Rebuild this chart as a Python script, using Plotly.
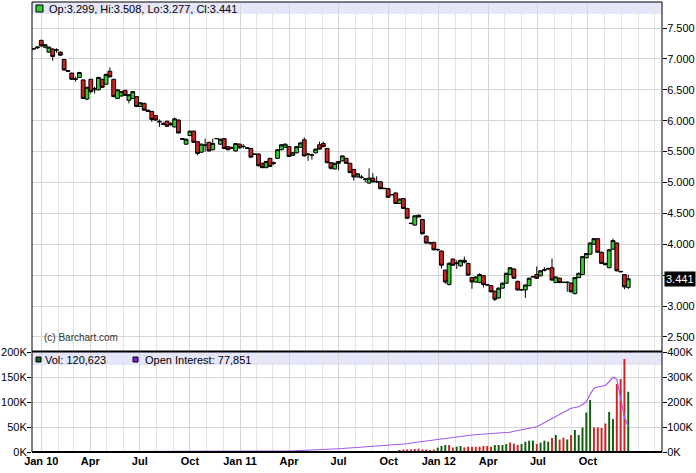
import pandas as pd
import plotly.graph_objects as go

# ---------------- data ----------------
start_date = "2009-12-18"   # first weekly bar (Fridays)

opens = [7.16,7.18,7.30,7.19,7.11,7.16,7.14,7.11,6.99,6.81,6.77,6.68,6.70,6.66,6.35,6.67,6.50,6.50,6.67,6.59,
         6.80,6.67,6.36,6.40,6.49,6.33,6.36,6.39,6.23,6.28,6.17,6.15,6.08,5.99,5.95,5.99,5.95,5.90,6.01,5.71,
         5.62,5.76,5.83,5.66,5.49,5.60,5.65,5.53,5.71,5.62,5.71,5.58,5.56,5.51,5.62,5.58,5.56,5.55,5.46,5.46,
         5.31,5.24,5.39,5.31,5.39,5.53,5.57,5.58,5.44,5.48,5.57,5.69,5.46,5.44,5.48,5.61,5.63,5.55,5.32,5.22,
         5.31,5.35,5.39,5.31,5.21,5.09,5.08,5.05,4.99,5.07,5.01,5.01,4.90,4.90,4.80,4.83,4.66,4.74,4.58,4.34,
         4.31,4.47,4.40,4.13,4.02,4.03,3.91,3.89,3.58,3.35,3.76,3.69,3.65,3.74,3.69,3.46,3.39,3.38,3.49,3.34,
         3.33,3.24,3.13,3.29,3.37,3.51,3.60,3.40,3.26,3.26,3.33,3.47,3.51,3.49,3.58,3.60,3.62,3.38,3.45,3.38,
         3.38,3.37,3.20,3.46,3.51,3.78,3.84,4.00,4.09,3.87,3.69,3.62,3.92,4.02,3.56,3.51,3.299]
highs = [7.17,7.21,7.31,7.24,7.20,7.17,7.17,7.12,7.00,6.82,6.78,6.71,6.79,6.66,6.55,6.67,6.55,6.71,6.68,6.76,
         6.86,6.67,6.51,6.48,6.50,6.43,6.48,6.40,6.30,6.29,6.18,6.15,6.09,6.02,5.98,6.00,5.98,6.05,6.02,5.72,
         5.71,5.84,5.84,5.66,5.63,5.71,5.66,5.71,5.72,5.71,5.72,5.59,5.58,5.64,5.63,5.62,5.57,5.56,5.47,5.47,
         5.32,5.35,5.40,5.34,5.54,5.62,5.63,5.59,5.49,5.59,5.65,5.73,5.48,5.47,5.55,5.66,5.66,5.56,5.33,5.32,
         5.34,5.44,5.40,5.32,5.22,5.15,5.12,5.07,5.23,5.15,5.10,5.02,4.91,4.91,4.81,4.84,4.74,4.75,4.59,4.35,
         4.47,4.48,4.41,4.14,4.04,4.04,3.93,3.90,3.59,3.71,3.77,3.74,3.75,3.80,3.70,3.47,3.48,3.53,3.50,3.35,
         3.34,3.25,3.30,3.38,3.54,3.63,3.61,3.41,3.27,3.35,3.46,3.48,3.64,3.58,3.63,3.62,3.77,3.48,3.46,3.39,
         3.40,3.38,3.47,3.54,3.81,3.86,4.03,4.10,4.10,3.88,3.70,3.92,4.09,4.03,3.57,3.52,3.508]
lows = [7.15,7.16,7.20,7.17,7.10,6.97,7.10,7.05,6.81,6.79,6.66,6.63,6.69,6.35,6.33,6.44,6.44,6.49,6.53,6.58,
        6.70,6.38,6.35,6.39,6.40,6.28,6.35,6.22,6.22,6.16,6.14,5.98,6.00,5.90,5.93,5.90,5.91,5.89,5.80,5.69,
        5.61,5.75,5.64,5.44,5.48,5.50,5.50,5.52,5.70,5.61,5.54,5.52,5.54,5.50,5.55,5.55,5.55,5.40,5.45,5.26,
        5.23,5.23,5.25,5.28,5.38,5.52,5.56,5.41,5.43,5.47,5.56,5.42,5.35,5.37,5.47,5.53,5.57,5.31,5.21,5.21,
        5.20,5.34,5.30,5.15,5.03,5.08,5.06,5.00,4.98,5.00,4.99,4.89,4.89,4.75,4.79,4.65,4.65,4.57,4.41,4.33,
        4.30,4.44,4.16,4.01,3.99,3.90,3.89,3.61,3.36,3.33,3.65,3.60,3.64,3.69,3.49,3.28,3.38,3.37,3.30,3.33,
        3.22,3.08,3.12,3.28,3.36,3.50,3.44,3.25,3.25,3.13,3.32,3.46,3.44,3.48,3.56,3.59,3.41,3.37,3.37,3.37,
        3.23,3.22,3.19,3.45,3.50,3.77,3.83,3.99,3.86,3.68,3.66,3.61,3.91,3.56,3.55,3.27,3.277]
closes = [7.165,7.19,7.21,7.23,7.19,7.04,7.145,7.06,6.82,6.80,6.67,6.67,6.78,6.36,6.54,6.47,6.52,6.70,6.54,6.75,
          6.71,6.39,6.50,6.47,6.41,6.42,6.47,6.23,6.29,6.17,6.15,6.02,6.01,5.98,5.94,5.91,5.94,6.03,5.80,5.70,
          5.70,5.83,5.65,5.47,5.62,5.605,5.51,5.63,5.71,5.70,5.55,5.53,5.56,5.63,5.56,5.585,5.555,5.41,5.455,5.27,
          5.24,5.34,5.26,5.315,5.53,5.61,5.62,5.42,5.48,5.58,5.64,5.43,5.455,5.445,5.54,5.54,5.58,5.32,5.23,5.31,
          5.34,5.43,5.31,5.16,5.09,5.14,5.085,5.055,5.07,5.01,5.015,4.90,4.905,4.76,4.805,4.66,4.73,4.58,4.42,4.335,
          4.46,4.44,4.17,4.02,4.025,3.91,3.915,3.66,3.39,3.69,3.66,3.695,3.74,3.71,3.50,3.39,3.47,3.51,3.35,3.345,
          3.23,3.11,3.29,3.37,3.53,3.62,3.45,3.26,3.265,3.34,3.45,3.475,3.45,3.57,3.585,3.605,3.42,3.47,3.38,3.385,
          3.385,3.23,3.46,3.53,3.80,3.85,4.02,4.09,3.87,3.69,3.67,3.91,4.06,3.57,3.555,3.31,3.441]

# weekly volume, thousands of contracts
volume_k = [0]*60 + [0.5]*24 + [1.2,1.5,1.0,1.8,1.4,1.6,2.0,1.5,1.8,1.6,2.0,1.8,
            4,5,5,5,6,6.7,5,5,4,5,
            8.7,12,14,14,9,10.7,12,9,10.7,10.7,10.7,10.7,12,12,10.7,14,14,14,16,19,16.7,14,16,20.7,
            22.7,22.7,16,18.7,22.7,20.7,28,34,25,28.7,25,34,44,34,49,79,104,49,49,48,57,80,66,136,146,186,120.6]
volume_up = ([True]*84 + [True,False,True,False,True,True,False,True,False,True,False,True] +
             [True,False,False,False,False,False,False,False,False,False] +
             [True,True,True,False,False,True,True,False,False,False,False,False,False,False,False,True,True,True,True,False,
              False,False,True,True,True,True,False,True,True,True,False,True,False,False,True,False,True,True,True,True,
              True,False,False,False,False,True,True,False,False,False,True])

# weekly open interest, thousands of contracts
open_interest_k = ([0.5]*20 + [1.0]*20 + [1.5,1.5,1.6,1.7,1.8,1.9,2.0,2.0,2.1,2.2,2.2,2.3,2.3,2.4,2.4,2.5,2.5,2.6,2.6,2.7,
                   2.7,2.8,2.8,2.9,3.0] +
                   [3,3.5,4,4.5,5,6,6.5,7,7.5,8.5,9,10,11,11.5,12,13,14,15,15.5,16,17,18,19,20,21,22,23,24,25,26,
                    27,28,30,33,36,38,41,44,46,48,50,52,54,56,58,61,62,63,65,66,68,69,71,72,73,74,75,76,77,78,
                    79,83,86,89,92,95,98,101,109,117,125,133,141,150,158,167,175,178,181,190,201,230,255,260,263,266,
                    281,299,291,215,140,100])

price_ticks = [2.5, 3.0, 3.5, 4.0, 4.5, 5.0, 5.5, 6.0, 6.5, 7.0, 7.5]
price_tick_text = ["2.500", "3.000", "", "4.000", "4.500", "5.000", "5.500", "6.000", "6.500", "7.000", "7.500"]
vol_ticks = [0, 50, 100, 150, 200]
vol_tick_text = ["0K", "50K", "100K", "150K", "200K"]
oi_ticks = [0, 100, 200, 300, 400]
oi_tick_text = ["0K", "100K", "200K", "300K", "400K"]
x_tick_dates = ["2010-01-01", "2010-04-01", "2010-07-01", "2010-10-01", "2011-01-01", "2011-04-01",
                "2011-07-01", "2011-10-01", "2012-01-01", "2012-04-01", "2012-07-01", "2012-10-01"]
x_tick_text = ["Jan 10", "Apr", "Jul", "Oct", "Jan 11", "Apr", "Jul", "Oct", "Jan 12", "Apr", "Jul", "Oct"]

last_ohlc_text = "Op:3.299, Hi:3.508, Lo:3.277, Cl:3.441"
vol_legend_text = "Vol: 120,623"
oi_legend_text = "Open Interest: 77,851"
last_close = 3.441

dates = pd.date_range(start_date, periods=len(closes), freq="7D")

# ---------------- figure ----------------
FONT = "Arial, Liberation Sans, sans-serif"
GRID = "#d6d6d6"
W, H = 696, 473
ML, MR, MT, MB = 32, 34, 2, 21
PH = H - MT - MB

def py(pix):  # pixel row -> paper fraction
    return (H - MB - pix) / PH

def px(pix):
    return (pix - ML) / (W - ML - MR)

fig = go.Figure()

fig.add_trace(go.Candlestick(
    x=dates, open=opens, high=highs, low=lows, close=closes,
    increasing=dict(fillcolor="#33cc33", line=dict(color="black", width=1)),
    decreasing=dict(fillcolor="#cc2222", line=dict(color="black", width=1)),
    whiskerwidth=0, showlegend=False, hoverinfo="skip", yaxis="y"))

fig.add_trace(go.Bar(
    x=dates, y=volume_k, yaxis="y2",
    marker=dict(color=["#0f5f0f" if u else "#d42222" for u in volume_up], line=dict(width=0)),
    width=3.6 * 86400000, showlegend=False, hoverinfo="skip"))

fig.add_trace(go.Scatter(
    x=dates, y=open_interest_k, yaxis="y3", mode="lines",
    line=dict(color="#a658ee", width=1.2), showlegend=False, hoverinfo="skip"))

price_dom = [py(351), 1]
vol_dom = [0, py(352)]

shapes = [
    # header bands
    dict(type="rect", xref="paper", yref="paper", x0=0, x1=1, y0=py(14), y1=1,
         fillcolor="#e6e6fa", line=dict(width=0), layer="below"),
    dict(type="rect", xref="paper", yref="paper", x0=0, x1=1, y0=py(365), y1=py(352),
         fillcolor="#e6e6fa", line=dict(width=0), layer="below"),
    # frame
    dict(type="line", xref="paper", yref="paper", x0=0, x1=1, y0=1, y1=1, line=dict(color="black", width=1)),
    dict(type="line", xref="paper", yref="paper", x0=0, x1=0, y0=0, y1=1, line=dict(color="black", width=1)),
    dict(type="line", xref="paper", yref="paper", x0=1, x1=1, y0=0, y1=1, line=dict(color="black", width=1)),
    dict(type="line", xref="paper", yref="paper", x0=0, x1=1, y0=py(351.5), y1=py(351.5), line=dict(color="black", width=2)),
    dict(type="line", xref="paper", yref="paper", x0=0, x1=1, y0=0, y1=0, line=dict(color="black", width=2)),
    # legend squares
    dict(type="rect", xref="paper", yref="paper", x0=px(36), x1=px(43), y0=py(12), y1=py(5),
         fillcolor="#33cc33", line=dict(color="black", width=1)),
    dict(type="rect", xref="paper", yref="paper", x0=px(36), x1=px(41), y0=py(362), y1=py(357),
         fillcolor="#1f5f1f", line=dict(color="black", width=1)),
    dict(type="rect", xref="paper", yref="paper", x0=px(133), x1=px(138), y0=py(362), y1=py(357),
         fillcolor="#8020e0", line=dict(color="black", width=1)),
]

annotations = [
    dict(xref="paper", yref="paper", x=px(47), y=py(8.5), text=last_ohlc_text, showarrow=False,
         xanchor="left", yanchor="middle", font=dict(family=FONT, size=11, color="black")),
    dict(xref="paper", yref="paper", x=px(43), y=py(360), text=vol_legend_text, showarrow=False,
         xanchor="left", yanchor="middle", font=dict(family=FONT, size=11, color="black")),
    dict(xref="paper", yref="paper", x=px(143), y=py(360), text=oi_legend_text, showarrow=False,
         xanchor="left", yanchor="middle", font=dict(family=FONT, size=11, color="black")),
    dict(xref="paper", yref="paper", x=px(42), y=py(338), text="(c) Barchart.com", showarrow=False,
         xanchor="left", yanchor="middle", font=dict(family=FONT, size=10, color="#333333")),
    dict(xref="paper", yref="y", x=1, y=last_close, text=f"{last_close:.3f}", showarrow=False,
         xanchor="left", yanchor="middle", xshift=2, bgcolor="black", borderpad=1,
         font=dict(family=FONT, size=11, color="white")),
]

axis_font = dict(family=FONT, size=11, color="black")

fig.update_layout(
    template="none",
    width=W, height=H,
    margin=dict(l=ML, r=MR, t=MT, b=MB, pad=0, autoexpand=False),
    paper_bgcolor="white", plot_bgcolor="rgba(0,0,0,0)",
    font=dict(family=FONT, size=11, color="black"),
    boxgap=0.0, boxgroupgap=0.0,
    showlegend=False,
    shapes=shapes, annotations=annotations,
    xaxis=dict(type="date", range=["2009-12-15", "2013-02-14"], anchor="y2", automargin=False,
               tickmode="array", tickvals=x_tick_dates, ticktext=x_tick_text,
               tickfont=dict(family=FONT, size=11, color="black", weight="bold"),
               ticks="", ticklabelstandoff=1, showgrid=True, gridcolor=GRID, gridwidth=1,
               minor=dict(dtick="M1", tick0="2010-01-01", showgrid=True, gridcolor="#e4e4e4", ticks=""),
               rangeslider=dict(visible=False), showline=False, zeroline=False, fixedrange=True),
    yaxis=dict(domain=price_dom, range=[2.272, 7.921], side="right", anchor="x", automargin=False,
               tickmode="array", tickvals=price_ticks, ticktext=price_tick_text,
               ticks="outside", ticklen=4, tickcolor="black", tickwidth=1, ticklabelstandoff=-2,
               showgrid=True, gridcolor=GRID, showline=False, zeroline=False, tickfont=axis_font),
    yaxis2=dict(domain=vol_dom, range=[0, 200], side="left", anchor="x", automargin=False,
                tickmode="array", tickvals=vol_ticks, ticktext=vol_tick_text,
                ticks="outside", ticklen=4, tickcolor="black", tickwidth=1, ticklabelstandoff=-2,
                showgrid=True, gridcolor=GRID, showline=False, zeroline=False, tickfont=axis_font),
    yaxis3=dict(overlaying="y2", range=[0, 400], side="right", anchor="x", automargin=False,
                tickmode="array", tickvals=oi_ticks, ticktext=oi_tick_text,
                ticks="outside", ticklen=4, tickcolor="black", tickwidth=1, ticklabelstandoff=-2,
                showgrid=False, showline=False, zeroline=False, tickfont=axis_font),
)

fig.write_html("out.html", config={"displayModeBar": False, "staticPlot": True},
               post_script="document.body.style.margin='0';document.body.style.padding='0';")
